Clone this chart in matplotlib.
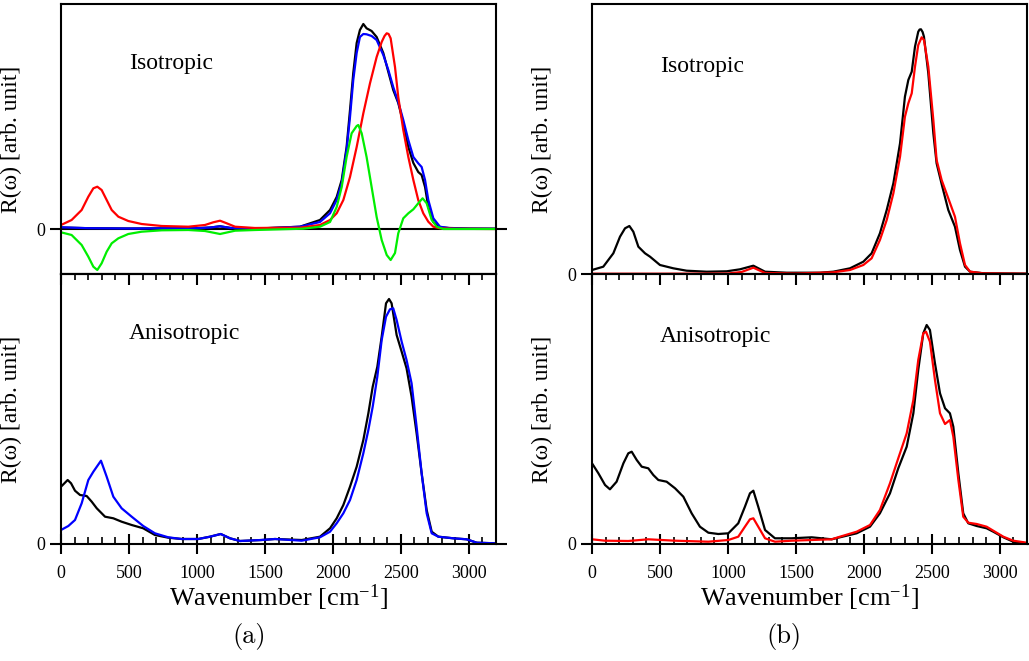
import matplotlib
matplotlib.use('Agg')
import matplotlib.pyplot as plt
from matplotlib.ticker import MultipleLocator

# ---------------- data (arb. units) ----------------
# (a) Isotropic
a_iso_black_x = [0, 200, 500, 1000, 1100, 1170, 1250, 1500, 1758, 1905, 1979, 2028, 2065, 2101, 2126, 2150,
                 2175, 2199, 2224, 2248, 2285, 2322, 2371, 2408, 2444, 2481, 2518, 2555, 2592, 2628, 2653,
                 2678, 2702, 2739, 2788, 2862, 3000, 3200]
a_iso_black_y = [1.5, 0.8, 0.5, 0.8, 1.5, 2.7, 1, 0.8, 2.3, 9, 19, 32, 49, 82, 119, 156,
                 186, 199, 205, 200.7, 198, 192, 176, 157, 139, 126, 106, 82, 66, 57, 54,
                 42, 22, 7, 1.7, 1, 0.5, 0.3]
a_iso_blue_x = a_iso_black_x
a_iso_blue_y = [1.7, 0.8, 0.5, 0.8, 1.5, 2.7, 1, 0.7, 2.3, 7, 15.7, 29, 46, 79, 112, 149,
                176, 192, 195, 194.7, 193, 189, 174, 159, 142, 127, 109, 89, 72, 65.7, 62,
                49, 29, 10.7, 2.3, 0.7, 0.3, 0.2]
a_iso_red_x = [0, 78, 152, 201, 238, 267, 299, 336, 373, 422, 495, 593, 741, 937, 1059, 1120, 1170, 1219,
               1280, 1427, 1672, 1758, 1905, 1979, 2028, 2077, 2126, 2175, 2224, 2273, 2322, 2359, 2380,
               2396, 2410, 2425, 2457, 2481, 2518, 2555, 2592, 2628, 2665, 2702, 2739, 2788, 2900, 3200]
a_iso_red_y = [4, 9, 19, 32.3, 40.7, 42.3, 39, 29, 19, 12.3, 8, 5, 3, 2.3, 4, 6.7, 8.3, 5.7,
               2.3, 1, 1.3, 1.3, 4, 9, 15.7, 29, 52, 82, 115.7, 145.7, 172, 187, 193,
               195.7, 195, 190.7, 162, 132, 99, 72, 49, 29, 15.7, 7.3, 2.3, 0.7, 0.2, 0]
a_iso_green_x = [0, 78, 152, 201, 238, 267, 299, 336, 373, 422, 495, 593, 741, 937, 1059, 1170, 1280,
                 1427, 1780, 1905, 1979, 2028, 2065, 2101, 2138, 2175, 2187, 2212, 2248, 2285, 2322,
                 2359, 2396, 2425, 2457, 2481, 2518, 2555, 2592, 2628, 2660, 2690, 2727, 2764, 2813, 3200]
a_iso_green_y = [-3.3, -6, -16, -27.7, -37.7, -41, -34.3, -22.7, -14.3, -9.3, -5, -2.7, -1.3, -1, -2, -5, -1.7,
                 -1, 0.3, 2.3, 7, 22, 42, 72, 95.7, 103, 104, 95.7, 72, 42, 12,
                 -11, -26, -31, -24, -4.3, 10.7, 15.7, 19.7, 25.7, 30.7, 25.7, 9, 2.3, 0, 0]

# (a) Anisotropic
a_ani_black_x = [0, 25, 49, 74, 103, 140, 189, 226, 263, 324, 385, 446, 520, 605, 691, 789, 888, 1010, 1096,
                 1175, 1243, 1317, 1476, 1574, 1771, 1905, 1979, 2028, 2077, 2126, 2175, 2224, 2261, 2293,
                 2327, 2359, 2391, 2413, 2432, 2469, 2506, 2542, 2579, 2616, 2653, 2690, 2727, 2776, 2886,
                 2984, 3058, 3193]
a_ani_black_y = [57.3, 60.7, 64, 60.7, 53.3, 49, 48, 42.3, 35.7, 27.3, 25.7, 22.3, 19, 15.7, 9, 6.3, 5, 5, 7.3,
                 10, 5.7, 3, 4, 5, 4, 7.3, 15.7, 25.7, 39, 57.3, 77.3, 104, 130.7, 157.3,
                 177.3, 207.3, 240.7, 245, 240.7, 209, 192.3, 175.7, 147.3, 110.7, 70.7, 34, 12.3, 7.3, 5.7,
                 4.7, 1.3, 0.7]
a_ani_blue_x = [0, 54, 103, 152, 201, 238, 294, 336, 385, 446, 520, 605, 691, 789, 888, 1010, 1096, 1175,
                1243, 1317, 1476, 1574, 1771, 1905, 1979, 2028, 2077, 2126, 2175, 2224, 2261, 2293, 2327,
                2359, 2391, 2420, 2444, 2469, 2506, 2542, 2579, 2616, 2653, 2690, 2727, 2776, 2886, 2984,
                3058, 3193]
a_ani_blue_y = [14, 18, 24, 40.7, 64, 72.3, 83.3, 67.3, 47.3, 35.7, 27.3, 18, 10.7, 6.7, 5, 5, 7.3, 10,
                5.7, 3, 4, 5, 3.3, 6.7, 12.3, 20.7, 30.7, 44, 64, 90.7, 114, 137.3, 167.3,
                204, 227.3, 234.7, 235.7, 224, 202.3, 184, 160.7, 117.3, 70.7, 30.7, 10.7, 7.3, 5.7, 4.7,
                1.3, 0.7]

# (b) Isotropic
b_iso_black_x = [0, 83, 157, 206, 243, 275, 304, 341, 390, 427, 500, 598, 696, 844, 991, 1089, 1187, 1273,
                 1432, 1677, 1775, 1898, 1996, 2057, 2118, 2168, 2217, 2266, 2302, 2327, 2352, 2376, 2400,
                 2410, 2420, 2432, 2442, 2474, 2511, 2535, 2572, 2621, 2670, 2707, 2744, 2781, 2879, 3200]
b_iso_black_y = [4, 7.3, 20.7, 37.3, 45.7, 48, 42.3, 27.3, 20.7, 17.3, 9, 5.7, 3.3, 2.3, 2.7, 4.7, 8.3, 2.3,
                 1.3, 1.3, 2.3, 5.7, 12.3, 20.7, 40.7, 64, 90.7, 130.7, 177.3, 194, 202.3, 227.3, 242.3,
                 244.5, 244.7, 242, 237.3, 200.7, 140.7, 110.7, 90, 64, 47.3, 24, 7.3, 2.3, 0.7, 0.3]
b_iso_red_x = [0, 500, 1000, 1100, 1187, 1273, 1500, 1775, 1898, 1996, 2057, 2118, 2168, 2217, 2266, 2302,
               2327, 2352, 2376, 2400, 2425, 2442, 2474, 2511, 2535, 2572, 2621, 2670, 2707, 2744, 2781,
               2879, 3200]
b_iso_red_y = [0.3, 0.3, 0.5, 2, 6.3, 1, 0.5, 1.7, 4, 9, 15.7, 34, 54, 80.7, 117.3, 157.3,
               170.7, 180.7, 207.3, 229, 236.7, 234, 207.3, 154, 114, 94, 75.7, 57.3, 30.7, 9, 2.3,
               0.7, 0.3]

# (b) Anisotropic
b_ani_black_x = [0, 47, 96, 132, 181, 231, 267, 292, 329, 366, 414, 451, 488, 549, 611, 672, 733, 794, 856,
                 929, 1003, 1076, 1125, 1162, 1187, 1223, 1273, 1346, 1469, 1616, 1763, 1824, 1947, 2045,
                 2118, 2192, 2253, 2315, 2364, 2400, 2437, 2462, 2486, 2523, 2560, 2597, 2633, 2658, 2695,
                 2731, 2768, 2830, 2903, 2952, 3026, 3099, 3198]
b_ani_black_y = [80.7, 70.7, 59, 54.7, 62.3, 80.7, 90.7, 92.3, 84, 77.3, 75.7, 69, 64, 62.3, 55.7, 47.3, 30.7,
                 17.3, 11.3, 10, 10.7, 20.7, 37.3, 50.7, 53.3, 37.3, 14, 5.7, 5.7, 6.7, 4.7, 6.7, 10.7,
                 17.3, 30.7, 50.7, 75.7, 97.3, 130.7, 174, 210.7, 219, 214, 180.7, 150.7, 135.7, 130.7,
                 117.3, 70.7, 30.7, 20.7, 18, 15.7, 12.3, 6.7, 2.3, 0.7]
b_ani_red_x = [0, 96, 267, 414, 611, 856, 1003, 1076, 1125, 1162, 1187, 1223, 1273, 1346, 1469, 1616, 1763,
               1824, 1947, 2045, 2118, 2192, 2253, 2315, 2364, 2400, 2437, 2457, 2486, 2523, 2560, 2597,
               2633, 2658, 2695, 2731, 2768, 2830, 2903, 2952, 3026, 3099, 3198]
b_ani_red_y = [4.7, 3.3, 3, 4.7, 3.3, 2.3, 4, 7.3, 17.3, 24.7, 25.7, 17.3, 5.7, 2.3, 3.3, 4, 4.7,
               7.3, 12.3, 19, 34, 60.7, 85.7, 110.7, 144, 184, 210.7, 212.3, 202.3, 164, 130.7, 120,
               124, 107.3, 64, 27.3, 21.3, 20, 17.3, 13.3, 7.3, 3.3, 1.3]

panel_labels = ['(a)', '(b)']
xtick_values = [0, 500, 1000, 1500, 2000, 2500, 3000]
ylabel_text = 'R(\u03c9) [arb. unit]'
xlabel_text = r'Wavenumber [cm$^{\mathrm{-1}}$]'

# ---------------- style ----------------
plt.rcParams['font.family'] = ['Liberation Serif', 'DejaVu Serif']
plt.rcParams['mathtext.fontset'] = 'custom'
plt.rcParams['mathtext.rm'] = 'Liberation Serif'
plt.rcParams['mathtext.it'] = 'Liberation Serif:italic'

BLACK, RED, BLUE, GREEN = '#000000', '#ff0000', '#0000ff', '#00ee00'
LW = 1.6

W, H = 1029, 661
fig = plt.figure(figsize=(W / 100, H / 100), dpi=100)


def add_ax(l, t, r, b):
    return fig.add_axes([l / W, 1 - b / H, (r - l) / W, (b - t) / H])


ax_tl = add_ax(61, 4, 496, 274)
ax_bl = add_ax(61, 274, 496, 544)
ax_tr = add_ax(592, 4, 1027, 274)
ax_br = add_ax(592, 274, 1027, 544)


def style(ax, ylim, bottom):
    ax.set_xlim(0, 3200)
    ax.set_ylim(*ylim)
    for s in ax.spines.values():
        s.set_linewidth(1.5)
    ax.set_yticks([0])
    ax.set_yticklabels(['0'])
    ax.tick_params(axis='y', direction='out', left=True, right=True, length=8, width=1.5,
                   labelsize=13, pad=3)
    ax.set_ylabel(ylabel_text, fontsize=17)
    ax.yaxis.set_label_coords(-0.09, 0.5)
    if bottom:
        ax.set_xticks(xtick_values)
        ax.set_xticklabels([str(v) for v in xtick_values])
        ax.xaxis.set_minor_locator(MultipleLocator(100))
        ax.tick_params(axis='x', which='major', direction='inout', length=14, width=1.5,
                       labelsize=13, pad=8, top=False)
        ax.tick_params(axis='x', which='minor', direction='in', length=5, width=1.2, top=False)
        sec = ax.secondary_xaxis('top')
        sec.set_xticks(xtick_values)
        sec.xaxis.set_minor_locator(MultipleLocator(100))
        sec.tick_params(axis='x', which='major', direction='in', length=8, width=1.5, labeltop=False)
        sec.tick_params(axis='x', which='minor', direction='in', length=4.5, width=1.2)
        sec.spines['top'].set_linewidth(1.5)
    else:
        ax.set_xticks([])


# (a) top
ax_tl.axhline(0, color=BLACK, lw=1.5, zorder=1)
ax_tl.plot(a_iso_black_x, a_iso_black_y, color=BLACK, lw=LW)
ax_tl.plot(a_iso_blue_x, a_iso_blue_y, color=BLUE, lw=LW)
ax_tl.plot(a_iso_red_x, a_iso_red_y, color=RED, lw=LW)
ax_tl.plot(a_iso_green_x, a_iso_green_y, color=GREEN, lw=LW)
style(ax_tl, (-45, 225), False)
ax_tl.text(500, 0.759, 'Isotropic', transform=ax_tl.get_xaxis_transform(), fontsize=17,
           va='baseline', ha='left')

# (a) bottom
ax_bl.plot(a_ani_black_x, a_ani_black_y, color=BLACK, lw=LW)
ax_bl.plot(a_ani_blue_x, a_ani_blue_y, color=BLUE, lw=LW)
style(ax_bl, (0, 270), True)
ax_bl.text(500, 0.759, 'Anisotropic', transform=ax_bl.get_xaxis_transform(), fontsize=17,
           va='baseline', ha='left')

# (b) top
ax_tr.plot(b_iso_black_x, b_iso_black_y, color=BLACK, lw=LW)
ax_tr.plot(b_iso_red_x, b_iso_red_y, color=RED, lw=LW)
style(ax_tr, (0, 270), False)
ax_tr.text(500, 0.748, 'Isotropic', transform=ax_tr.get_xaxis_transform(), fontsize=17,
           va='baseline', ha='left')

# (b) bottom
ax_br.plot(b_ani_black_x, b_ani_black_y, color=BLACK, lw=LW)
ax_br.plot(b_ani_red_x, b_ani_red_y, color=RED, lw=LW)
style(ax_br, (0, 270), True)
ax_br.text(500, 0.748, 'Anisotropic', transform=ax_br.get_xaxis_transform(), fontsize=17,
           va='baseline', ha='left')

# x labels and panel labels
fig.text(278.5 / W, 1 - 598 / H, xlabel_text, fontsize=19, ha='center', va='center')
fig.text(809.5 / W, 1 - 598 / H, xlabel_text, fontsize=19, ha='center', va='center')
fig.text(249 / W, 1 - 636 / H, panel_labels[0], fontsize=19, ha='center', va='center',
         family=['cmr10', 'DejaVu Serif'])
fig.text(784 / W, 1 - 636 / H, panel_labels[1], fontsize=19, ha='center', va='center',
         family=['cmr10', 'DejaVu Serif'])

fig.savefig('out.png', dpi=100)
